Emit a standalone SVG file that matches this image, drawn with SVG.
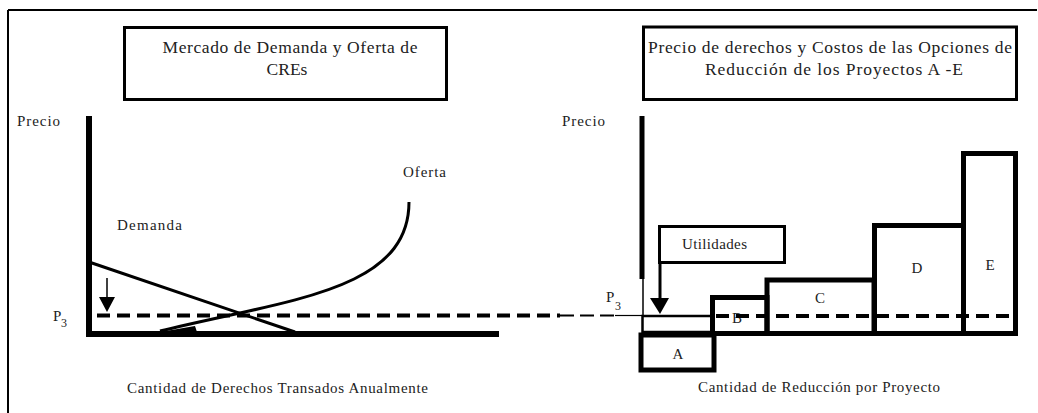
<svg xmlns="http://www.w3.org/2000/svg" width="1038" height="413" viewBox="0 0 1038 413">
<style>
text{font-family:"Liberation Serif","Times New Roman",serif;fill:#222;}
.t{font-size:17.5px;}
.s{font-size:15px;}
.box{fill:#fff;stroke:#000;stroke-width:3;}
.bar{fill:none;stroke:#000;stroke-width:5;}
.ax{stroke:#000;stroke-width:6;fill:none;}
.ln{stroke:#000;stroke-width:3;fill:none;}
.dash{stroke:#000;stroke-width:4;stroke-dasharray:13 7;fill:none;}
</style>
<rect width="1038" height="413" fill="#fff"/>
<g id="frame">
<line x1="8" y1="10" x2="1037" y2="10" stroke="#000" stroke-width="2"/>
<line x1="8" y1="10" x2="8" y2="413" stroke="#000" stroke-width="2"/>
</g>
<g id="title-left">
<rect class="box" x="124.5" y="27.5" width="322" height="72"/>
<text class="t" x="290" y="53" text-anchor="middle" textLength="255">Mercado de Demanda y Oferta de</text>
<text class="t" x="287" y="75" text-anchor="middle">CREs</text>
</g>
<g id="title-right">
<rect class="box" x="643.5" y="27" width="373" height="72.5"/>
<text class="t" x="830" y="53" text-anchor="middle" textLength="364">Precio de derechos y Costos de las Opciones de</text>
<text class="t" x="834" y="75" text-anchor="middle" textLength="258">Reducción de los Proyectos A -E</text>
</g>
<g id="left-chart">
<text class="s" x="17" y="126" textLength="43">Precio</text>
<line class="ax" x1="89" y1="116" x2="89" y2="337"/>
<line class="ax" x1="86" y1="334" x2="499" y2="334"/>
<text class="s" x="403" y="177" textLength="43">Oferta</text>
<text class="s" x="117" y="230" textLength="65">Demanda</text>
<path class="ln" d="M160,331 C285,300 409,292 409,202"/>
<path d="M160,332 L195,326 L197,332 Z" fill="#000"/>
<line class="ln" x1="89" y1="262" x2="295" y2="332"/>
<text class="s" x="53" y="321">P</text>
<text style="font-size:12px" x="61" y="327">3</text>
<text class="s" x="127" y="393" textLength="301">Cantidad de Derechos Transados Anualmente</text>
</g>
<g id="right-chart">
<text class="s" x="562" y="126" textLength="43">Precio</text>
<line x1="642" y1="116" x2="642" y2="279" stroke="#000" stroke-width="5"/>
<line x1="643" y1="278" x2="643" y2="316" stroke="#000" stroke-width="1.5"/>
<text class="s" x="606" y="302">P</text>
<text style="font-size:12px" x="615" y="310">3</text>
<text class="s" x="698" y="392" textLength="242">Cantidad de Reducción por Proyecto</text>
</g>
<g id="utilidades">
<rect class="box" x="659.5" y="226.5" width="125" height="36"/>
<text class="s" x="682" y="249" textLength="65">Utilidades</text>
</g>
<g id="profit-area">
<rect x="642.5" y="316" width="69.5" height="16" fill="#fff" stroke="#000" stroke-width="2.5"/>
</g>
<g id="project-A">
<rect class="bar" x="641" y="335" width="73" height="35" fill="#fff"/>
<text class="s" x="678" y="359" text-anchor="middle">A</text>
</g>
<g id="project-B">
<rect class="bar" x="712.5" y="297.5" width="54.5" height="36"/>
<text class="s" x="737" y="323" text-anchor="middle">B</text>
</g>
<g id="project-C">
<rect class="bar" x="767" y="280" width="107" height="53.5"/>
<text class="s" x="820" y="303" text-anchor="middle">C</text>
</g>
<g id="project-D">
<rect class="bar" x="874.5" y="225.5" width="89" height="108"/>
<text class="s" x="917" y="273" text-anchor="middle">D</text>
</g>
<g id="project-E">
<rect class="bar" x="963.5" y="153.5" width="52" height="180"/>
<text class="s" x="990" y="270" text-anchor="middle">E</text>
</g>
<g id="connectors">
<line class="dash" x1="97" y1="315.5" x2="560" y2="315.5"/>
<line x1="560" y1="315.5" x2="615" y2="315.5" stroke="#000" stroke-width="2" stroke-dasharray="14 6"/>
<line x1="615" y1="315.5" x2="642" y2="315.5" stroke="#000" stroke-width="1.2"/>
<line class="dash" x1="716" y1="316" x2="1016" y2="316"/>
<line x1="107" y1="278" x2="107" y2="298" stroke="#000" stroke-width="1.5"/>
<path d="M99,297 L115,297 L107,312 Z" fill="#000"/>
<line x1="660" y1="262" x2="660" y2="299" stroke="#000" stroke-width="3"/>
<path d="M650,298 L669,298 L660,314 Z" fill="#000"/>
</g>
</svg>
